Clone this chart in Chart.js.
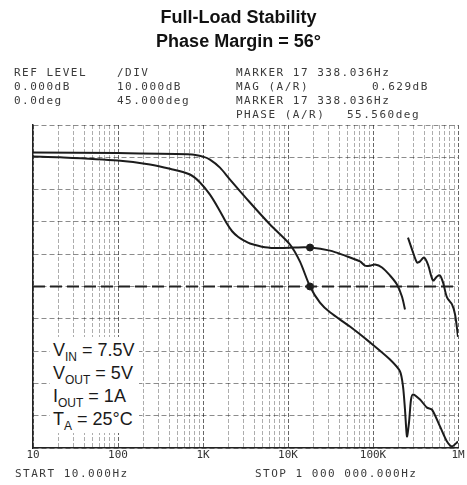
<!DOCTYPE html>
<html>
<head>
<meta charset="utf-8">
<script src="https://cdn.jsdelivr.net/npm/chart.js@4.4.1/dist/chart.umd.min.js"></script>
<style>
	body { margin: 0; background: #fff; }
	#wrap { position: relative; width: 467px; height: 485px; overflow: hidden; background: #fff; }
	#chart { position: absolute; left: 0; top: 0; }
	.title { position: absolute; left: 0; width: 477px; text-align: center; font: bold 18px "Liberation Sans", Arial, sans-serif; color: #111; line-height: 22px; }
	.hdr { position: absolute; font: 11px "DejaVu Sans Mono", monospace; color: #3a3a3a; letter-spacing: 1.5px; line-height: 13px; white-space: pre; }
	#cond { position: absolute; left: 50px; top: 337px; background: #fff; padding: 2px 4px 2px 3px; font: 18px "Liberation Sans", Arial, sans-serif; color: #1a1a1a; line-height: 23px; }
	#cond sub { font-size: 12px; line-height: 0; vertical-align: -5px; }
	.foot { position: absolute; top: 467px; font: 11px "DejaVu Sans Mono", monospace; color: #3a3a3a; letter-spacing: 1.5px; line-height: 13px; white-space: pre; }
</style>
</head>
<body>
<div id="wrap">
	<canvas id="chart" width="467" height="485"></canvas>
	<div class="title" style="top:6px">Full-Load Stability</div>
	<div class="title" style="top:30px">Phase Margin = 56°</div>

	<div class="hdr" style="left:14px;top:66px">REF LEVEL</div>
	<div class="hdr" style="left:14px;top:80px">0.000dB</div>
	<div class="hdr" style="left:14px;top:94px">0.0deg</div>
	<div class="hdr" style="left:117px;top:66px">/DIV</div>
	<div class="hdr" style="left:117px;top:80px">10.000dB</div>
	<div class="hdr" style="left:117px;top:94px">45.000deg</div>
	<div class="hdr" style="left:236px;top:66px">MARKER 17 338.036Hz</div>
	<div class="hdr" style="left:236px;top:80px">MAG (A/R)</div>
	<div class="hdr" style="left:372px;top:80px">0.629dB</div>
	<div class="hdr" style="left:236px;top:94px">MARKER 17 338.036Hz</div>
	<div class="hdr" style="left:236px;top:108px">PHASE (A/R)</div>
	<div class="hdr" style="left:347px;top:108px">55.560deg</div>

	<div id="cond">
		V<sub>IN</sub> = 7.5V<br>
		V<sub>OUT</sub> = 5V<br>
		I<sub>OUT</sub> = 1A<br>
		T<sub>A</sub> = 25°C
	</div>

	<div class="foot" style="left:15px">START 10.000Hz</div>
	<div class="foot" style="left:255px">STOP 1 000 000.000Hz</div>
</div>
<script>
// values
var magFreq  = [10, 100, 743, 1000, 1208, 1585, 2080, 3570, 6140, 10560, 13840, 18150, 23770, 31180, 53560, 92200, 158500, 208000, 225600, 237900, 251000, 265300, 280000, 295700, 357500, 431700, 494300, 613900, 742500, 849600, 1000000];
var magDb    = [41.5, 41.3, 40.9, 40.2, 39.3, 36.8, 33.1, 26.0, 19.2, 13.0, 7.7, 0, -5.0, -8.0, -12.4, -17.3, -22.6, -26.3, -31.0, -38.1, -46.4, -42.1, -35.0, -33.4, -35.0, -37.5, -38.1, -43.3, -48.0, -49.5, -48.0];

var phaseFreq = [10, 20.8, 100, 237.7, 409, 703, 922, 1208, 1585, 1900, 2200, 2600, 3100, 3570, 5360, 8050, 12080, 18150, 31180, 46880, 70300, 80500, 92200, 105600, 127700, 158500, 191400, 219000, 237900, 247000, 258000, 288000, 329600, 357500, 398000, 443700, 508300, 566600, 613900, 666700, 742500, 849600, 923600, 1000000];
var phaseDeg  = [181, 180, 175.5, 170, 164, 156, 145, 128, 105, 88, 77, 69, 63.5, 60, 54.8, 53.5, 54.3, 54.3, 50, 43, 35, 29, 29, 30.6, 26.5, 15.3, 2.8, -14, -32, null, 68, 51.5, 33.4, 35, 40.4, 30.6, 8.4, 14, 15.3, 5.6, -15.3, -25, -39, -70];

var markerFreq  = [18150];
var markerMag   = [0];
var markerPhase = [54.3];

var decades      = [10, 100, 1000, 10000, 100000, 1000000];
var decadeLabels = ['10', '100', '1K', '10K', '100K', '1M'];

function toPoints(xs, ys) {
	var out = [];
	for (var i = 0; i < xs.length; i++) out.push({x: xs[i], y: ys[i]});
	return out;
}

// grid at 1..9 of each decade
var gridFreqs = [];
for (var d = 0; d < decades.length - 1; d++) {
	for (var m = 1; m < 10; m++) gridFreqs.push(decades[d] * m);
}
gridFreqs.push(1000000);

var ink = '#1c1c1c';

var ctx = document.getElementById('chart');
new Chart(ctx, {
	type: 'line',
	data: {
		datasets: [
			{ data: toPoints(magFreq, magDb), yAxisID: 'y', borderColor: ink, borderWidth: 2, pointRadius: 0, tension: 0.25 },
			{ data: toPoints(phaseFreq, phaseDeg), yAxisID: 'y2', borderColor: ink, borderWidth: 2, pointRadius: 0, tension: 0.3, spanGaps: false },
			{ data: [{x: 10, y: 0}, {x: 1000000, y: 0}], yAxisID: 'y', borderColor: '#222', borderWidth: 2, borderDash: [12, 5], pointRadius: 0 },
			{ data: toPoints(markerFreq, markerMag), yAxisID: 'y', showLine: false, pointRadius: 3.5, pointBackgroundColor: ink, pointBorderColor: ink },
			{ data: toPoints(markerFreq, markerPhase), yAxisID: 'y2', showLine: false, pointRadius: 3.5, pointBackgroundColor: ink, pointBorderColor: ink }
		]
	},
	options: {
		responsive: false,
		animation: false,
		devicePixelRatio: 1,
		layout: { padding: { left: 33, right: 9, top: 125, bottom: 25 } },
		plugins: { legend: { display: false }, tooltip: { enabled: false } },
		scales: {
			x: {
				type: 'logarithmic',
				min: 10,
				max: 1000000,
				afterBuildTicks: function(scale) {
					scale.ticks = gridFreqs.map(function(v) { return {value: v}; });
				},
				afterFit: function(scale) { scale.height = 12; },
				ticks: {
					autoSkip: false,
					maxRotation: 0,
					padding: 1,
					color: '#333',
					font: { family: 'DejaVu Sans Mono', size: 11 },
					callback: function(value) {
						var i = decades.indexOf(value);
						return i >= 0 ? decadeLabels[i] : '';
					}
				},
				grid: {
					drawTicks: false,
					color: function(c) {
						return decades.indexOf(c.tick.value) >= 0 ? 'rgba(0,0,0,0.6)' : 'rgba(0,0,0,0.32)';
					},
					lineWidth: 1
				},
				border: { display: true, color: '#222', width: 1.5, dash: [4, 2] }
			},
			y: {
				min: -50,
				max: 50,
				afterFit: function(scale) { scale.width = 0; },
				ticks: { display: false, stepSize: 10 },
				grid: { drawTicks: false, color: 'rgba(0,0,0,0.45)', lineWidth: 1 },
				border: { display: true, color: '#222', width: 1.5, dash: [5, 3] }
			},
			y2: {
				min: -225,
				max: 225,
				display: false
			}
		}
	}
});
</script>
</body>
</html>
